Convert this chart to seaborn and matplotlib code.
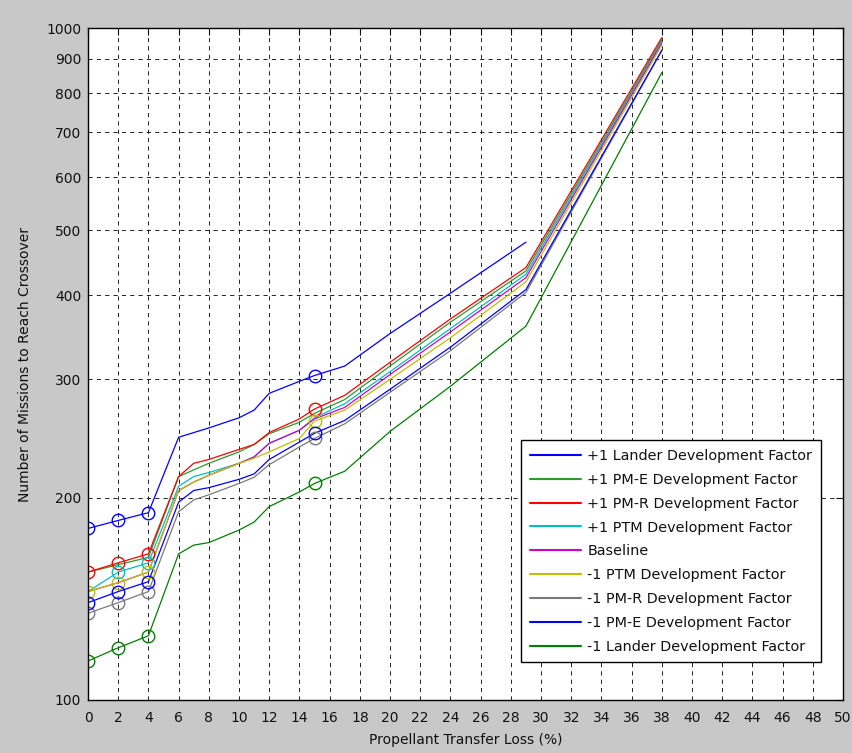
"""
Missions to reach crossover vs propellant transfer loss, MATLAB-style log plot
"""

import matplotlib
matplotlib.use("Agg")
import matplotlib.pyplot as plt
from matplotlib.lines import Line2D
import seaborn as sns
import pandas as pd
import numpy as np

# propellant transfer loss (%) sample points
loss = [0, 2, 4, 6, 7, 8, 10, 11, 12, 14, 15, 17, 20, 24, 29, 38]

series_names = [
    "+1 Lander Development Factor",
    "+1 PM-E Development Factor",
    "+1 PM-R Development Factor",
    "+1 PTM Development Factor",
    "Baseline",
    "-1 PTM Development Factor",
    "-1 PM-R Development Factor",
    "-1 PM-E Development Factor",
    "-1 Lander Development Factor",
]

lander_up = [180, 185, 190, 246, 250, 254, 263, 270, 286, 298, 304, 314, 351, 403, 480, np.nan]
pme_up = [155, 159, 163, 215, 220, 225, 234, 240, 249, 259, 267, 280, 314, 365, 435, 960]
pmr_up = [155, 160, 165, 215, 225, 228, 236, 240, 250, 262, 271, 284, 318, 369, 440, 968]
ptm_up = [145, 155, 160, 208, 215, 218, 225, 230, 241, 252, 263, 276, 308, 357, 430, 955]
baseline = [145, 149.5, 155, 205, 211, 216, 225, 230, 241, 252, 262, 272.5, 305, 353, 425, 950]
ptm_down = [145, 149.5, 155, 205, 211, 216, 225, 229, 234, 245, 260, 270, 300, 346, 419, 943]
pmr_down = [134.6, 139.6, 145, 190.6, 198.5, 202, 210, 214.5, 224, 238, 245, 257.6, 287, 331, 404, 925]
pme_down = [139.6, 145, 150, 197, 205, 207, 213, 217, 228, 242, 249.4, 260.6, 290, 335, 408, 927]
lander_down = [114.3, 119.6, 124.6, 165, 170, 171.5, 179, 184, 194, 204, 210, 219, 251, 293, 360, 858]

# loss values where each curve carries an open-circle marker
marker_loss = {
    "+1 Lander Development Factor": [0, 2, 4, 15],
    "+1 PM-E Development Factor": [],
    "+1 PM-R Development Factor": [0, 2, 4, 15],
    "+1 PTM Development Factor": [2, 4],
    "Baseline": [],
    "-1 PTM Development Factor": [0, 2, 4, 15],
    "-1 PM-R Development Factor": [0, 2, 4, 15],
    "-1 PM-E Development Factor": [0, 2, 4, 15],
    "-1 Lander Development Factor": [0, 2, 4, 15],
}

colors = ["#0000ff", "#2e9a2e", "#ff0000", "#00bfbf", "#d000d0",
          "#bfbf00", "#7a7a7a", "#0000ff", "#008000"]

all_values = [lander_up, pme_up, pmr_up, ptm_up, baseline,
              ptm_down, pmr_down, pme_down, lander_down]

rows = []
for name, vals in zip(series_names, all_values):
    for x, v in zip(loss, vals):
        if not np.isnan(v):
            rows.append({"loss": x, "missions": v, "series": name})
df = pd.DataFrame(rows)

palette = dict(zip(series_names, colors))

sns.set_style("white")
plt.rcParams["font.family"] = ["DejaVu Sans"]
plt.rcParams["text.color"] = "#111111"
plt.rcParams["axes.labelcolor"] = "#111111"

fig = plt.figure(figsize=(8.53, 7.53), dpi=100, facecolor="#c8c8c8")
ax = fig.add_axes([0.1032, 0.0704, 0.8851, 0.8924])
ax.set_facecolor("white")

sns.lineplot(data=df, x="loss", y="missions", hue="series", hue_order=series_names,
             palette=palette, sort=False, estimator=None, linewidth=0.9,
             legend=False, ax=ax)

for name in series_names:
    sub = df[(df["series"] == name) & (df["loss"].isin(marker_loss[name]))]
    ax.plot(sub["loss"], sub["missions"], linestyle="none", marker="o",
            markersize=9, markerfacecolor="none", markeredgecolor=palette[name],
            markeredgewidth=1.0)

ax.set_yscale("log")
ax.set_xlim(0, 50)
ax.set_ylim(100, 1000)
yticks = [100, 200, 300, 400, 500, 600, 700, 800, 900, 1000]
ax.set_yticks(yticks)
ax.set_yticklabels([str(t) for t in yticks])
ax.yaxis.set_minor_locator(matplotlib.ticker.NullLocator())
ax.set_xticks(range(0, 51, 2))

ax.grid(True, which="major", color="black", linestyle=(0, (5, 5)), linewidth=0.6)
ax.tick_params(direction="in", length=5, width=0.8, top=True, right=True,
               labelsize=10, colors="#111111")
ax.tick_params(axis="x", pad=8)
ax.tick_params(axis="y", pad=5)
for s in ax.spines.values():
    s.set_color("black")
    s.set_linewidth(1.0)

ax.set_xlabel("Propellant Transfer Loss (%)", fontsize=10, labelpad=6)
ax.set_ylabel("Number of Missions to Reach Crossover", fontsize=10, labelpad=10)

handles = [Line2D([], [], color=c, linewidth=1.5) for c in colors]
leg = ax.legend(handles, series_names, loc="lower right",
                bbox_to_anchor=(0.9705, 0.0561), borderaxespad=0,
                fontsize=10.4, frameon=True, fancybox=False, framealpha=1,
                edgecolor="black", handlelength=3.5, handletextpad=0.45,
                labelspacing=0.68, borderpad=0.6)
leg.get_frame().set_linewidth(1.0)

plt.savefig("out.png", dpi=100, facecolor=fig.get_facecolor())
